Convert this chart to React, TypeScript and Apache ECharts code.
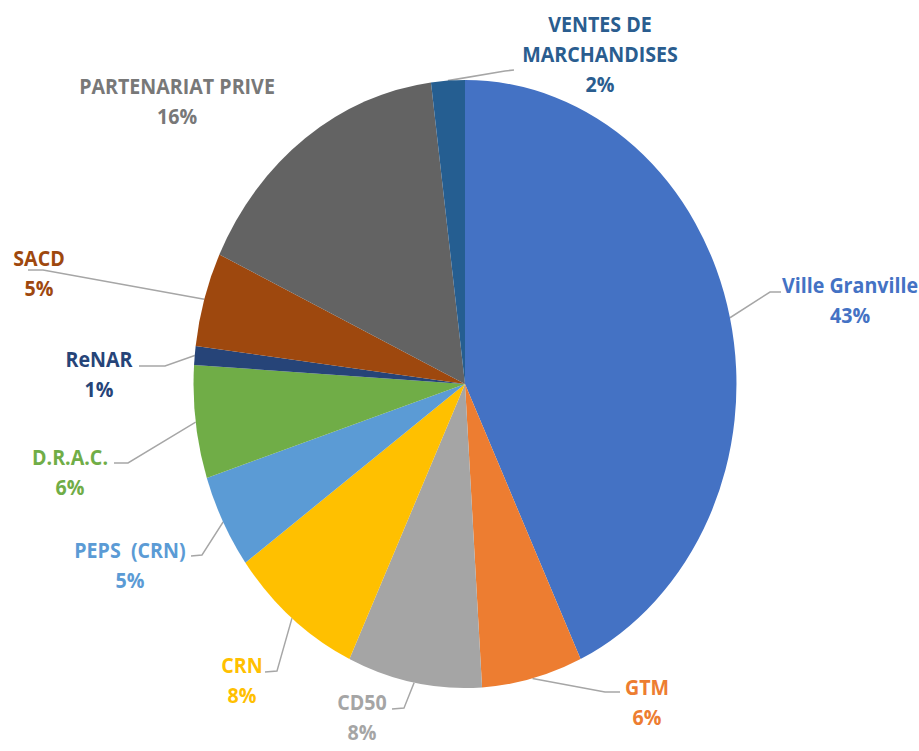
import React, { useEffect, useRef } from 'react';
import * as echarts from 'echarts';

// ---- data ----
const categories = [
  'Ville Granville',
  'GTM',
  'CD50',
  'CRN',
  'PEPS  (CRN)',
  'D.R.A.C.',
  'ReNAR',
  'SACD',
  'PARTENARIAT PRIVE',
  'VENTES DE MARCHANDISES',
];
const values = [43, 6, 8, 8, 5, 6, 1, 5, 16, 2];
const sliceColors = [
  '#4472C4', '#ED7D31', '#A5A5A5', '#FFC000', '#5B9BD5',
  '#70AD47', '#264478', '#9E480E', '#636363', '#255E91',
];
const labelColors = [
  '#4472C4', '#ED7D31', '#A5A5A5', '#FFC000', '#5B9BD5',
  '#70AD47', '#264478', '#9E480E', '#787878', '#2A5D8F',
];

// ---- layout (page pixels) ----
const SX = 0.893; // horizontal squash of the picture
const W = 919;
const H = 751;
const CENTER: [number, number] = [465, 384];
const RADIUS = 304;

type LabelPlace = { x: number; y: number; line: [number, number][] | null };
const labelPlaces: LabelPlace[] = [
  { x: 850, y: 300, line: [[770, 292], [781, 292]] },
  { x: 647, y: 702, line: [[605, 692], [620, 692]] },
  { x: 362, y: 717, line: [[404, 708], [392, 709]] },
  { x: 242, y: 680, line: [[277, 671], [265, 672]] },
  { x: 130, y: 565, line: [[202, 555], [191, 556]] },
  { x: 70, y: 472, line: [[128, 463], [114, 463]] },
  { x: 99, y: 374, line: [[165, 366], [139, 366]] },
  { x: 39, y: 273, line: [[43, 270], [28, 270]] },
  { x: 177, y: 101, line: null },
  { x: 600, y: 54, line: [[505, 71], [514, 70]] },
];

export default function App() {
  const ref = useRef<HTMLDivElement>(null);

  useEffect(() => {
    if (!ref.current) return;
    const chart = echarts.init(ref.current, undefined, { renderer: 'svg' });
    const data = categories.map((name, i) => ({
      name,
      value: values[i],
      itemStyle: { color: sliceColors[i] },
      label: { color: labelColors[i] },
      labelLine: { show: labelPlaces[i].line !== null },
    }));
    chart.setOption({
      animation: false,
      backgroundColor: '#ffffff',
      series: [
        {
          type: 'pie',
          center: [CENTER[0] / SX, CENTER[1]],
          radius: RADIUS,
          startAngle: 90,
          clockwise: true,
          avoidLabelOverlap: false,
          itemStyle: { borderWidth: 0 },
          label: {
            show: true,
            position: 'outside',
            fontFamily: '"Open Sans", sans-serif',
            fontWeight: 'bold',
            fontSize: 22,
            lineHeight: 30,
            align: 'center',
            formatter: (p: any) =>
              `${String(p.name).replace('VENTES DE ', 'VENTES DE\n')}\n${Math.round(p.percent)}%`,
          },
          labelLine: {
            show: true,
            length: 10,
            length2: 10,
            smooth: false,
            lineStyle: { color: '#A6A6A6', width: 1.6 },
          },
          labelLayout: (p: any) => {
            const L = labelPlaces[p.dataIndex];
            const res: any = {
              x: L.x / SX,
              y: L.y,
              align: 'center',
              verticalAlign: 'middle',
            };
            if (L.line && p.labelLinePoints && p.labelLinePoints.length) {
              res.labelLinePoints = [
                p.labelLinePoints[0],
                [L.line[0][0] / SX, L.line[0][1]],
                [L.line[1][0] / SX, L.line[1][1]],
              ];
            }
            return res;
          },
          data,
        },
      ],
    });
    return () => chart.dispose();
  }, []);

  return (
    <div
      style={{
        position: 'fixed',
        left: 0,
        top: 0,
        width: W,
        height: H,
        overflow: 'hidden',
        background: '#ffffff',
      }}
    >
      <div
        ref={ref}
        style={{
          position: 'absolute',
          left: 0,
          top: 0,
          width: W / SX,
          height: H,
          transform: `scaleX(${SX})`,
          transformOrigin: '0 0',
        }}
      />
    </div>
  );
}
